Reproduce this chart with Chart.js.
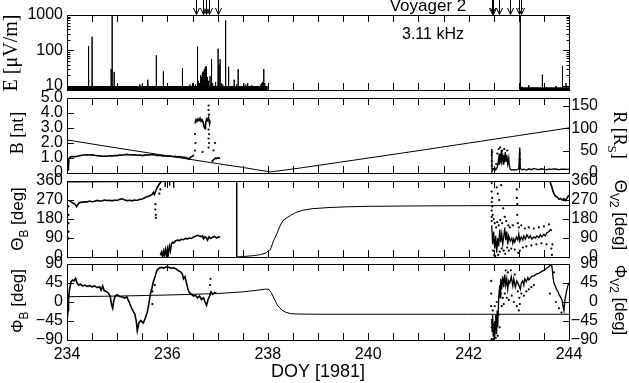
<!DOCTYPE html>
<html>
<head>
<meta charset="utf-8">
<script src="https://cdn.jsdelivr.net/npm/chart.js@4.4.1/dist/chart.umd.min.js"></script>
<style>
  html, body { margin: 0; padding: 0; background: #fff; }
  #wrap { position: relative; width: 629px; height: 383px; overflow: hidden; }
  #wrap canvas { position: absolute; left: 0; top: 0; }
</style>
</head>
<body>
<div id="wrap">
  <canvas id="pE" width="629" height="383"></canvas>
  <canvas id="pB" width="629" height="383"></canvas>
  <canvas id="pTheta" width="629" height="383"></canvas>
  <canvas id="pPhi" width="629" height="383"></canvas>
</div>
<script>
// ---- axes / ticks ----
const dayMin = 234;
const dayMax = 244;
const dayTicks = [234, 234.5, 235, 235.5, 236, 236.5, 237, 237.5, 238, 238.5, 239,
  239.5, 240, 240.5, 241, 241.5, 242, 242.5, 243, 243.5, 244];
const dayLabels = [234, 236, 238, 240, 242, 244];
const eMajorTicks = [10, 100, 1000];
const eMinorTicks = [8, 9, 20, 30, 40, 50, 60, 70, 80, 90, 200, 300, 400, 500, 600, 700, 800, 900];
const bTicks = [0, 1, 2, 3, 4, 5];
const rTicks = [0, 50, 100, 150];
const thetaTicks = [0, 90, 180, 270, 360];
const phiTicks = [-90, -45, 0, 45, 90];
const eventArrowDays = [236.56, 236.7, 236.76, 236.82, 237.01, 242.46, 242.49, 242.6, 242.82, 243.01, 243.05];

// ---- E field 3.11 kHz ----
const eSpikeBase = 7;
const eNoiseLeft = [[234.0, 8.7], [238.0, 8.7]];
const eNoiseRight = [[243.03, 8.4], [244.0, 8.4]];
const eSpikes = [
  [234.43, 134], [234.5, 245], [234.88, 30], [234.9, 1000], [234.94, 25], [235.45, 11],
  [235.5, 11.5], [235.61, 15], [235.78, 73], [235.92, 26], [236.3, 32], [236.45, 11],
  [236.5, 12], [236.53, 10], [236.56, 11], [236.6, 128], [236.62, 14], [236.64, 12],
  [236.66, 20], [236.67, 18], [236.68, 16], [236.69, 24], [236.7, 22], [236.71, 19],
  [236.72, 26], [236.73, 28], [236.74, 30], [236.75, 35], [236.76, 22], [236.77, 25],
  [236.78, 36], [236.79, 15], [236.8, 18], [236.82, 14], [236.85, 19], [236.88, 57],
  [236.9, 12], [236.93, 10], [236.96, 13], [237.01, 112], [237.03, 40], [237.05, 57],
  [237.08, 12], [237.1, 11], [237.16, 700], [237.22, 35], [237.27, 10], [237.33, 15],
  [237.38, 11], [237.41, 30], [237.47, 10], [237.52, 12], [237.56, 11], [237.6, 12],
  [237.64, 10], [237.68, 10.5], [237.72, 9.5], [237.86, 11], [237.88, 12], [237.9, 13],
  [237.92, 30], [237.94, 12], [237.96, 10],
  [243.03, 1000], [243.06, 9.5], [243.2, 10.5], [243.3, 9], [243.47, 21], [243.55, 9],
  [243.74, 10], [243.87, 37], [243.94, 12]
];

// ---- B [nT] ----
const bQuiet = [
  [234.0, 0.95], [234.01, 0.7], [234.02, 0.2], [234.03, 0.5], [234.04, 0.95], [234.06, 1.05],
  [234.1, 1.1], [234.15, 1.08], [234.2, 1.12], [234.25, 1.15], [234.3, 1.18], [234.35, 1.2],
  [234.4, 1.22], [234.45, 1.2], [234.5, 1.21], [234.55, 1.18], [234.6, 1.15], [234.65, 1.14],
  [234.7, 1.12], [234.75, 1.13], [234.8, 1.12], [234.85, 1.15], [234.9, 1.14], [234.95, 1.17],
  [235.0, 1.16], [235.05, 1.2], [235.1, 1.18], [235.15, 1.22], [235.2, 1.24], [235.25, 1.2],
  [235.3, 1.22], [235.35, 1.21], [235.4, 1.18], [235.45, 1.2], [235.5, 1.16], [235.55, 1.19],
  [235.6, 1.22], [235.65, 1.2], [235.7, 1.23], [235.75, 1.2], [235.8, 1.16], [235.85, 1.18],
  [235.9, 1.14], [235.95, 1.15], [236.0, 1.12], [236.05, 1.14], [236.1, 1.1], [236.15, 1.12],
  [236.2, 1.08], [236.25, 1.1], [236.3, 1.05], [236.35, 1.04], [236.4, 0.98], [236.43, 0.92],
  [236.46, 1.05], [236.5, 1.12], [236.53, 1.2]
];
const bHigh = [
  [236.55, 3.3], [236.57, 3.55], [236.59, 3.45], [236.61, 3.6], [236.63, 3.5], [236.65, 3.65],
  [236.67, 3.45], [236.69, 3.55], [236.71, 3.4], [236.73, 3.1], [236.75, 2.95], [236.76, 3.3],
  [236.78, 3.6], [236.8, 3.5], [236.82, 3.7], [236.84, 3.3], [236.85, 3.5]
];
const bLate = [
  [236.88, 0.85], [236.9, 0.78], [236.92, 0.88], [236.94, 0.95], [236.96, 1.0], [236.98, 0.96],
  [237.0, 1.02], [237.02, 0.98], [237.05, 1.0]
];
const bRight = [
  [242.46, 1.6], [242.465, 0.1], [242.48, 0.3], [242.5, 0.25], [242.52, 0.35], [242.54, 0.2],
  [242.56, 0.3], [242.58, 0.5], [242.6, 1.0], [242.61, 0.6], [242.62, 1.3], [242.64, 0.7],
  [242.65, 1.5], [242.66, 0.8], [242.68, 1.1], [242.69, 0.6], [242.7, 1.2], [242.72, 0.7],
  [242.73, 1.4], [242.75, 0.8], [242.76, 1.2], [242.78, 0.6], [242.8, 1.0], [242.81, 0.5],
  [242.83, 0.25], [242.86, 0.2], [242.9, 0.22], [242.94, 0.2], [242.98, 0.25], [243.0, 0.3],
  [243.02, 1.7], [243.03, 0.3], [243.06, 0.22], [243.1, 0.25], [243.15, 0.2], [243.2, 0.28],
  [243.25, 0.22], [243.3, 0.3], [243.35, 0.25], [243.4, 0.22], [243.45, 0.28], [243.5, 0.24],
  [243.55, 0.22], [243.6, 0.26], [243.65, 0.24], [243.7, 0.27], [243.75, 0.25], [243.8, 0.23],
  [243.85, 0.26], [243.9, 0.25], [243.95, 0.24], [244.0, 0.26]
];
const bDots = [
  [236.82, 4.5], [236.82, 4.2], [236.83, 3.9], [236.82, 2.9], [236.83, 2.6], [236.82, 2.3],
  [236.83, 2.0], [236.82, 1.7], [236.55, 2.6], [236.56, 2.0], [236.55, 1.5], [236.7, 1.4],
  [236.92, 1.5], [236.95, 2.0], [242.46, 1.2], [242.46, 0.8], [242.46, 0.5], [242.47, 1.4],
  [242.55, 0.6], [242.57, 1.3], [242.6, 1.6], [242.63, 1.7], [242.67, 1.5], [242.71, 1.6],
  [242.74, 1.1], [242.77, 1.5], [243.02, 1.3], [243.02, 0.9], [243.02, 0.6]
];

// ---- R [Rs] (right axis of panel 2) ----
const rModel = [
  [234, 74], [235, 56], [236, 38.5], [237, 21], [237.5, 12.5], [237.8, 7], [238.0, 3.5],
  [238.05, 2.7], [238.1, 3.2], [238.3, 6], [238.6, 10.5], [239, 17], [240, 33.5], [241, 50],
  [242, 67], [243, 84], [244, 101]
];

// ---- Theta_B and Theta_V2 [deg] ----
const thetaUpper = [
  [234.05, 266], [234.08, 261], [234.12, 256], [234.16, 250], [234.19, 238], [234.22, 250],
  [234.25, 258], [234.3, 260], [234.35, 262], [234.4, 261], [234.45, 265], [234.5, 262],
  [234.55, 264], [234.6, 268], [234.65, 265], [234.7, 266], [234.75, 270], [234.8, 267],
  [234.85, 269], [234.9, 266], [234.95, 270], [235.0, 268], [235.05, 273], [235.1, 276],
  [235.15, 270], [235.2, 267], [235.25, 269], [235.3, 266], [235.35, 270], [235.4, 268],
  [235.45, 273], [235.5, 275], [235.55, 281], [235.6, 286], [235.65, 290], [235.7, 298],
  [235.72, 306], [235.74, 296], [235.77, 315], [235.8, 330], [235.83, 342], [235.86, 352],
  [235.89, 360]
];
const thetaTopSpikes = [
  [235.95, 360], [235.955, 332], [235.96, 360], [236.0, 360], [236.04, 360], [236.045, 338],
  [236.05, 360], [236.08, 360], [236.12, 360], [236.125, 328], [236.13, 360]
];
const thetaStart = [[234.0, 82], [234.01, 95], [234.02, 86], [234.03, 92]];
const thetaLower = [
  [235.86, 8], [235.88, 22], [235.9, 4], [235.92, 28], [235.94, 6], [235.96, 35], [235.98, 10],
  [236.0, 40], [236.02, 15], [236.04, 50], [236.06, 30], [236.08, 62], [236.1, 70], [236.13, 66],
  [236.16, 76], [236.2, 80], [236.24, 78], [236.28, 84], [236.32, 82], [236.36, 88], [236.4, 86],
  [236.44, 90], [236.48, 88], [236.52, 95], [236.56, 98], [236.6, 103], [236.64, 100],
  [236.67, 97], [236.7, 100], [236.72, 86], [236.75, 96], [236.78, 90], [236.8, 80], [236.83, 95],
  [236.86, 88], [236.9, 94], [236.94, 98], [236.98, 90], [237.02, 95], [237.05, 92]
];
const thetaRightBand = [
  [242.46, 150], [242.48, 60], [242.5, 120], [242.52, 40], [242.54, 100], [242.56, 20],
  [242.58, 90], [242.6, 50], [242.62, 130], [242.64, 70], [242.66, 110], [242.68, 60],
  [242.7, 95], [242.72, 140], [242.74, 80], [242.76, 120], [242.78, 60], [242.8, 100],
  [242.83, 75], [242.86, 90], [242.88, 65], [242.9, 85], [242.92, 70], [242.95, 95],
  [242.98, 80], [243.0, 110], [243.02, 75], [243.05, 95], [243.08, 80], [243.1, 100],
  [243.13, 85], [243.16, 105], [243.2, 90], [243.23, 100], [243.26, 85], [243.3, 95],
  [243.33, 90], [243.36, 100], [243.4, 92], [243.43, 105], [243.46, 95], [243.5, 108],
  [243.53, 100], [243.56, 115], [243.6, 120], [243.63, 130], [243.66, 125]
];
const thetaRightUpper = [
  [243.62, 360], [243.64, 345], [243.66, 330], [243.68, 312], [243.7, 300], [243.72, 292],
  [243.75, 286], [243.78, 280], [243.8, 274], [243.83, 277], [243.86, 270], [243.9, 276],
  [243.93, 268], [243.96, 278], [243.98, 288], [244.0, 292]
];
const thetaDots = [
  [234.03, 120], [234.03, 160], [234.03, 200], [234.03, 240], [235.76, 250], [235.76, 225],
  [235.77, 200], [235.77, 185], [235.84, 300], [235.86, 320],
  [242.46, 350], [242.46, 310], [242.46, 260], [242.46, 220], [242.46, 190], [242.46, 170],
  [242.47, 280], [242.47, 240], [242.48, 200], [242.49, 30], [242.5, 180], [242.51, 10],
  [242.52, 160], [242.53, 5], [242.55, 140], [242.56, 330], [242.57, 165], [242.58, 300],
  [242.59, 10], [242.6, 150], [242.61, 270], [242.62, 25], [242.63, 175], [242.65, 340],
  [242.66, 40], [242.67, 160], [242.69, 230], [242.7, 30], [242.72, 190], [242.73, 15],
  [242.75, 170], [242.77, 45], [242.79, 150], [242.8, 30], [242.82, 140], [242.85, 40],
  [242.88, 150], [242.92, 35], [242.95, 360], [242.96, 320], [242.96, 280], [242.97, 250],
  [242.97, 200], [242.98, 160], [242.99, 20], [243.0, 140], [243.02, 30], [243.05, 150],
  [243.08, 45], [243.12, 135], [243.15, 50], [243.2, 140], [243.25, 55], [243.3, 135],
  [243.35, 60], [243.4, 140], [243.45, 65], [243.5, 145], [243.55, 60], [243.6, 155],
  [243.65, 40], [243.66, 10], [243.67, 60]
];
const thetaModel = [
  [234, 355], [235, 356.5], [236, 358], [237, 359.3], [237.38, 360], [237.38, 0], [237.5, 2],
  [237.7, 6], [237.85, 11], [237.95, 18], [238.05, 35], [238.12, 80], [238.18, 110],
  [238.24, 145], [238.3, 172], [238.38, 186], [238.45, 196], [238.55, 210], [238.7, 222],
  [238.9, 229], [239.2, 234], [239.6, 238], [240, 240], [241, 242], [242, 243], [243, 243.5],
  [244, 244]
];

// ---- Phi_B and Phi_V2 [deg] ----
const phiLeft = [
  [234.0, -15], [234.01, -35], [234.02, -20], [234.03, 5], [234.05, 30], [234.08, 48],
  [234.11, 52], [234.14, 50], [234.17, 56], [234.2, 45], [234.23, 40], [234.27, 42],
  [234.31, 38], [234.35, 40], [234.4, 37], [234.45, 39], [234.5, 36], [234.55, 38], [234.6, 34],
  [234.65, 36], [234.68, 28], [234.71, 38], [234.74, 27], [234.78, 25], [234.82, 22],
  [234.86, 14], [234.89, -8], [234.91, -15], [234.93, 2], [234.96, 14], [235.0, 17],
  [235.05, 13], [235.1, 12], [235.15, 9], [235.19, 12], [235.23, 2], [235.27, -10],
  [235.31, -20], [235.35, -28], [235.38, -45], [235.4, -68], [235.43, -50], [235.47, -44],
  [235.52, -50], [235.56, -38], [235.6, -24], [235.63, -5], [235.66, 18], [235.69, 32],
  [235.72, 48], [235.76, 62], [235.79, 75], [235.83, 80], [235.88, 82], [235.93, 80],
  [235.98, 83], [236.03, 82], [236.08, 80], [236.13, 81], [236.18, 78], [236.22, 74],
  [236.26, 72], [236.3, 66], [236.32, 55], [236.35, 60], [236.38, 45], [236.41, 30],
  [236.44, 22], [236.48, 18], [236.52, 14], [236.56, 16], [236.6, 10], [236.64, 14],
  [236.68, 6], [236.72, 10], [236.75, 0], [236.78, -8], [236.81, 6], [236.84, 14],
  [236.87, 24], [236.9, 18], [236.94, 22], [236.98, 20]
];
const phiRight = [
  [242.46, -40], [242.47, -70], [242.48, -30], [242.49, -80], [242.5, -50], [242.51, -85],
  [242.52, -45], [242.53, -65], [242.54, -30], [242.55, -75], [242.56, -50], [242.57, -20],
  [242.58, -60], [242.6, 10], [242.62, 40], [242.63, 10], [242.64, 55], [242.66, 30],
  [242.68, 60], [242.7, 35], [242.72, 65], [242.74, 40], [242.76, 55], [242.78, 30],
  [242.8, 50], [242.82, 45], [242.85, 60], [242.88, 38], [242.9, 55], [242.93, 35],
  [242.96, 50], [243.0, 40], [243.03, 30], [243.05, 45], [243.08, 50], [243.1, 40],
  [243.12, 55], [243.15, 48], [243.18, 58], [243.2, 52], [243.25, 60], [243.3, 62],
  [243.35, 66], [243.4, 68], [243.45, 72], [243.5, 75], [243.55, 80], [243.6, 84],
  [243.63, 88], [243.66, 85], [243.68, 60], [243.7, 45], [243.72, 40], [243.75, 30],
  [243.78, 25], [243.8, 18], [243.83, 12], [243.86, 5], [243.88, -10], [243.9, -20],
  [243.92, 5], [243.95, 25], [243.98, 40], [244.0, 45]
];
const phiDots = [
  [234.0, -45], [234.0, 0], [234.02, 15], [235.7, 25], [235.75, 40], [235.7, -5],
  [236.85, 40], [236.86, 55],
  [242.45, 50], [242.45, 20], [242.45, -10], [242.46, -60], [242.46, -88], [242.48, -20],
  [242.5, -88], [242.52, -10], [242.54, -85], [242.56, 0], [242.58, -80], [242.6, -30],
  [242.62, -60], [242.64, 20], [242.66, -10], [242.68, 10], [242.7, -5], [242.72, 20],
  [242.74, 75], [242.76, 10], [242.78, 70], [242.8, 5], [242.84, 75], [242.86, 15],
  [242.9, 0], [242.92, 65], [242.96, -10], [242.98, 25], [243.0, -20], [243.01, 10],
  [243.02, -5], [243.05, 20], [243.1, 15], [243.15, 25], [243.2, 30], [243.25, 35],
  [243.3, 40], [243.62, 20], [243.7, 70], [243.74, 0], [243.8, -15], [243.85, -25], [243.9, -10]
];
const phiModel = [
  [234, 12.5], [235, 14], [236, 16.5], [237, 20], [237.5, 24], [237.8, 28], [237.95, 30.5],
  [238.02, 30], [238.07, 22], [238.12, 9], [238.2, -9], [238.28, -19], [238.35, -24],
  [238.45, -27.5], [238.6, -28.5], [239, -29], [240, -29], [241, -29], [242, -29], [243, -29],
  [244, -29]
];

// ---- drawing helpers ----
const sans = 'Liberation Sans, Arial, sans-serif';
const serif = 'Liberation Serif, Times New Roman, serif';
const tickFont = { family: sans, size: 16 };

function pts(list) {
  return list.map(p => ({ x: p[0], y: p[1] }));
}
function trace(list, axis, width) {
  return { data: pts(list), yAxisID: axis, showLine: true, borderColor: '#000',
    borderWidth: width, pointRadius: 0, tension: 0, clip: 0 };
}
function dots(list, axis) {
  return { data: pts(list), yAxisID: axis, showLine: false, pointRadius: 1.1,
    pointBackgroundColor: '#000', pointBorderWidth: 0, clip: 0 };
}
function yAxis(pos, type, min, max, values, fmt, width) {
  return {
    type: type, position: pos, min: min, max: max,
    afterBuildTicks: s => { s.ticks = values.map(v => ({ value: v })); },
    afterFit: s => { s.width = width; },
    grid: { display: false, drawTicks: false },
    border: { display: false },
    ticks: { font: tickFont, color: '#000', padding: 4, autoSkip: false,
      crossAlign: pos === 'right' ? 'far' : 'near', callback: fmt }
  };
}
const hiddenX = { type: 'linear', min: dayMin, max: dayMax, display: false };
const degFmt = v => (v < 0 ? '\u2212' + Math.abs(v) : String(v));

function drawLabel(ctx, cx, cy, angle, parts, size, family) {
  ctx.save();
  ctx.translate(cx, cy);
  ctx.rotate(angle);
  ctx.fillStyle = '#000';
  ctx.textAlign = 'left';
  ctx.textBaseline = 'alphabetic';
  const sub = size * 0.7;
  const widths = parts.map(p => {
    ctx.font = (p.sub ? sub : size) + 'px ' + family;
    return ctx.measureText(p.t).width;
  });
  let x = -widths.reduce((a, b) => a + b, 0) / 2;
  parts.forEach((p, i) => {
    ctx.font = (p.sub ? sub : size) + 'px ' + family;
    ctx.fillText(p.t, x, size * 0.35 + (p.sub ? size * 0.3 : 0));
    x += widths[i];
  });
  ctx.restore();
}

function panelDecor(sides, extra) {
  return {
    id: 'panelDecor',
    afterDraw(chart) {
      const { ctx, chartArea: a, scales } = chart;
      ctx.save();
      ctx.strokeStyle = '#000';
      ctx.lineWidth = 1;
      ctx.strokeRect(a.left + 0.5, a.top + 0.5, a.right - a.left, a.bottom - a.top);
      ctx.beginPath();
      dayTicks.forEach(d => {
        const px = Math.round(scales.x.getPixelForValue(d)) + 0.5;
        ctx.moveTo(px, a.top); ctx.lineTo(px, a.top + 7);
        ctx.moveTo(px, a.bottom); ctx.lineTo(px, a.bottom - 7);
      });
      sides.forEach(side => {
        const s = scales[side.id];
        const x0 = side.pos === 'left' ? a.left : a.right + 1;
        const dir = side.pos === 'left' ? 1 : -1;
        side.major.forEach(v => {
          const py = Math.round(s.getPixelForValue(v)) + 0.5;
          ctx.moveTo(x0, py); ctx.lineTo(x0 + dir * 7, py);
        });
        (side.minor || []).forEach(v => {
          const py = Math.round(s.getPixelForValue(v)) + 0.5;
          ctx.moveTo(x0, py); ctx.lineTo(x0 + dir * 3.5, py);
        });
      });
      ctx.stroke();
      if (extra) extra(ctx, chart);
      ctx.restore();
    }
  };
}

function makeChart(id, datasets, scales, padding, decor) {
  return new Chart(document.getElementById(id), {
    type: 'scatter',
    data: { datasets: datasets },
    options: {
      responsive: false, animation: false, devicePixelRatio: 1, events: [],
      layout: { padding: padding },
      plugins: { legend: { display: false }, tooltip: { enabled: false } },
      scales: scales
    },
    plugins: [decor]
  });
}

// ---- panel 1: E ----
const eSpikeLines = eSpikes.flatMap(s => [[s[0], eSpikeBase], [s[0], s[1]], [s[0], eSpikeBase]]);
makeChart('pE', [
  trace(eSpikeLines, 'yE', 1),
  trace(eNoiseLeft, 'yE', 4),
  trace(eNoiseRight, 'yE', 3)
], {
  x: hiddenX,
  yE: yAxis('left', 'logarithmic', 7.7, 1000, eMajorTicks.concat(eMinorTicks),
    v => (eMajorTicks.includes(v) ? String(v) : ''), 67)
}, { top: 15, bottom: 293, left: 0, right: 60 },
panelDecor([
  { id: 'yE', pos: 'left', major: eMajorTicks, minor: eMinorTicks },
  { id: 'yE', pos: 'right', major: eMajorTicks, minor: eMinorTicks }
], (ctx, chart) => {
  const x = chart.scales.x;
  ctx.beginPath();
  eventArrowDays.forEach(d => {
    const px = Math.round(x.getPixelForValue(d)) + 0.5;
    ctx.moveTo(px, 0); ctx.lineTo(px, 14.5);
    ctx.moveTo(px - 3, 8); ctx.lineTo(px, 14.5); ctx.lineTo(px + 3, 8);
  });
  ctx.stroke();
  ctx.fillStyle = '#000';
  ctx.textAlign = 'center';
  ctx.textBaseline = 'alphabetic';
  ctx.font = '17px ' + sans;
  ctx.fillText('Voyager 2', 428, 11);
  ctx.font = '16px ' + sans;
  ctx.fillText('3.11 kHz', 433, 39);
  drawLabel(ctx, 10, 53, -Math.PI / 2, [{ t: 'E [\u03bcV/m]' }], 20, serif);
}));

// ---- panel 2: B and R ----
makeChart('pB', [
  trace(rModel, 'yR', 1),
  trace(bQuiet, 'yB', 1.6),
  trace(bHigh, 'yB', 1.6),
  trace(bLate, 'yB', 1.6),
  trace(bRight, 'yB', 1.3),
  dots(bDots, 'yB')
], {
  x: hiddenX,
  yB: yAxis('left', 'linear', 0, 5, bTicks, v => (v === 0 ? '0' : v.toFixed(1)), 67),
  yR: yAxis('right', 'linear', 0, 168, rTicks, v => String(v), 29)
}, { top: 98, bottom: 210, left: 0, right: 31 },
panelDecor([
  { id: 'yB', pos: 'left', major: bTicks },
  { id: 'yR', pos: 'right', major: rTicks }
], ctx => {
  drawLabel(ctx, 17, 133, -Math.PI / 2, [{ t: 'B [nt]' }], 18, serif);
  drawLabel(ctx, 620, 135, Math.PI / 2, [{ t: 'R [R' }, { t: 'S', sub: true }, { t: ']' }], 18, serif);
}));

// ---- panel 3: Theta ----
makeChart('pTheta', [
  trace(thetaModel, 'yTv', 1),
  trace(thetaStart, 'yT', 1.5),
  trace(thetaUpper, 'yT', 1.6),
  trace(thetaTopSpikes, 'yT', 1),
  trace(thetaLower, 'yT', 1.6),
  trace(thetaRightBand, 'yT', 1.3),
  trace(thetaRightUpper, 'yT', 1.6),
  dots(thetaDots, 'yT')
], {
  x: hiddenX,
  yT: yAxis('left', 'linear', 0, 360, thetaTicks, degFmt, 67),
  yTv: yAxis('right', 'linear', 0, 360, thetaTicks, degFmt, 29)
}, { top: 181, bottom: 126, left: 0, right: 31 },
panelDecor([
  { id: 'yT', pos: 'left', major: thetaTicks },
  { id: 'yTv', pos: 'right', major: thetaTicks }
], ctx => {
  drawLabel(ctx, 17, 219, -Math.PI / 2, [{ t: '\u0398' }, { t: 'B', sub: true }, { t: ' [deg]' }], 17, sans);
  drawLabel(ctx, 621, 215, Math.PI / 2, [{ t: '\u0398' }, { t: 'V2', sub: true }, { t: ' [deg]' }], 17, sans);
}));

// ---- panel 4: Phi ----
makeChart('pPhi', [
  trace(phiModel, 'yPv', 1),
  trace(phiLeft, 'yP', 1.6),
  trace(phiRight, 'yP', 1.3),
  dots(phiDots, 'yP')
], {
  x: {
    type: 'linear', min: dayMin, max: dayMax, position: 'bottom',
    afterBuildTicks: s => { s.ticks = dayTicks.map(v => ({ value: v })); },
    afterFit: s => { s.height = 43; },
    grid: { display: false, drawTicks: false },
    border: { display: false },
    ticks: { font: tickFont, color: '#000', padding: 5, autoSkip: false, maxRotation: 0,
      callback: v => (dayLabels.includes(v) ? String(v) : '') },
    title: { display: true, text: 'DOY [1981]', color: '#000',
      font: { family: sans, size: 18 }, padding: { top: 0, bottom: 0 } }
  },
  yP: yAxis('left', 'linear', -90, 90, phiTicks, degFmt, 67),
  yPv: yAxis('right', 'linear', -90, 90, phiTicks, degFmt, 29)
}, { top: 264, bottom: 0, left: 0, right: 31 },
panelDecor([
  { id: 'yP', pos: 'left', major: phiTicks },
  { id: 'yPv', pos: 'right', major: phiTicks }
], ctx => {
  drawLabel(ctx, 17, 301, -Math.PI / 2, [{ t: '\u03a6' }, { t: 'B', sub: true }, { t: ' [deg]' }], 17, sans);
  drawLabel(ctx, 621, 300, Math.PI / 2, [{ t: '\u03a6' }, { t: 'V2', sub: true }, { t: ' [deg]' }], 17, sans);
}));
</script>
</body>
</html>
